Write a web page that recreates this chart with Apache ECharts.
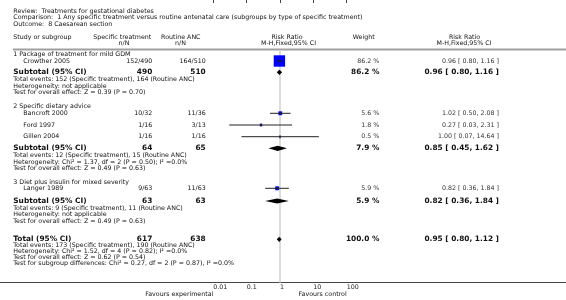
<!DOCTYPE html>
<html><head><meta charset="utf-8">
<script src="https://cdn.jsdelivr.net/npm/echarts@6/dist/echarts.min.js"></script>
<style>html,body{margin:0;padding:0;background:#fff}#c{width:566px;height:300px}</style>
</head><body><div id="c"></div>
<script>
// ---------- DATA ----------
var titleLines = ['Review:  Treatments for gestational diabetes',
  'Comparison:  1 Any specific treatment versus routine antenatal care (subgroups by type of specific treatment)',
  'Outcome:  8 Caesarean section'];
var groups = ['1 Package of treatment for mild GDM', '2 Specific dietary advice', '3 Diet plus insulin for mixed severity'];
var studies = ['Crowther 2005', 'Bancroft 2000', 'Ford 1997', 'Gillen 2004', 'Langer 1989'];
var studyGroup = [0, 1, 1, 1, 2];
var expEvents = [152, 10, 1, 1, 9];
var expTotal = [490, 32, 16, 16, 63];
var ctrlEvents = [164, 11, 3, 1, 11];
var ctrlTotal = [510, 36, 13, 16, 63];
var rr = [0.96, 1.02, 0.27, 1.00, 0.82];
var rrLo = [0.80, 0.50, 0.03, 0.07, 0.36];
var rrHi = [1.16, 2.08, 2.31, 14.64, 1.84];
var weights = [86.2, 5.6, 1.8, 0.5, 5.9];
var subRR = [0.96, 0.85, 0.82];
var subLo = [0.80, 0.45, 0.36];
var subHi = [1.16, 1.62, 1.84];
var subWeight = [86.2, 7.9, 5.9];
var subExpN = [490, 64, 63];
var subCtrlN = [510, 65, 63];
var subExpEv = [152, 12, 9];
var subCtrlEv = [164, 15, 11];
var subHet = ['not applicable', 'Chi\u00b2 = 1.37, df = 2 (P = 0.50); I\u00b2 =0.0%', 'not applicable'];
var subZ = ['Z = 0.39 (P = 0.70)', 'Z = 0.49 (P = 0.63)', 'Z = 0.49 (P = 0.63)'];
var totRR = 0.95, totLo = 0.80, totHi = 1.12, totWeight = 100.0;
var totExpN = 617, totCtrlN = 638, totExpEv = 173, totCtrlEv = 190;
var totHet = 'Chi\u00b2 = 1.52, df = 4 (P = 0.82); I\u00b2 =0.0%';
var totZ = 'Z = 0.62 (P = 0.54)';
var subgroupDiff = 'Chi\u00b2 = 0.27, df = 2 (P = 0.87), I\u00b2 =0.0%';
var tickValues = [0.01, 0.1, 1, 10, 100];
var favLeft = 'Favours experimental', favRight = 'Favours control';

// ---------- LAYOUT ----------
var FONT = '"DejaVu Sans", sans-serif';
var fs = 6.3, fb = 7.4;
var AXIS_Y = 282.5;
var colExpR = 152.3, colCtrlR = 205.7, colWR = 379.3, colRRR = 499;
var groupTitleY = [54.3, 106.7, 182.7];
var studyY = [61, 113.3, 125, 136.7, 188.3];
var subY = [72.3, 148.3, 201];
var totY = 239.3;

function f2(v){ return v.toFixed(2); }
function ci(a,b,c){ return f2(a) + ' [ ' + f2(b) + ', ' + f2(c) + ' ]'; }

var g = [];
function T(text, x, y, opt){
  opt = opt || {};
  g.push({type:'text', silent:true, z:10, style:{text:text, x:x, y:y,
    font:(opt.bold?'bold ':'') + (opt.size||fs) + 'px ' + FONT,
    fill: opt.color || '#111', align: opt.align || 'left', verticalAlign:'middle'}});
}
T(titleLines[0], 13.3, 11);
T(titleLines[1], 13.3, 17.4);
T(titleLines[2], 13.3, 24.3);
T('Study or subgroup', 13.3, 37.7);
T('Specific treatment', 122.2, 37.7, {align:'center'});
T('n/N', 124, 43.3, {align:'center'});
T('Routine ANC', 180.8, 37.7, {align:'center'});
T('n/N', 180.5, 43.3, {align:'center'});
T('Risk Ratio', 287, 37.7, {align:'center'});
T('M-H,Fixed,95% CI', 288.5, 43.3, {align:'center'});
T('Weight', 363.7, 37.7, {align:'center'});
T('Risk Ratio', 464.5, 37.7, {align:'center'});
T('M-H,Fixed,95% CI', 464, 43.3, {align:'center'});
g.push({type:'line', silent:true, shape:{x1:13, y1:49.5, x2:566, y2:49.5}, style:{stroke:'#a0a0a0', lineWidth:2}});

for (var k = 0; k < groups.length; k++) {
  T(groups[k], 13.3, groupTitleY[k]);
  var ys = subY[k];
  T('Subtotal (95% CI)', 13.3, ys, {bold:true, size:fb});
  T(String(subExpN[k]), colExpR, ys, {bold:true, size:fb, align:'right'});
  T(String(subCtrlN[k]), colCtrlR, ys, {bold:true, size:fb, align:'right'});
  T(subWeight[k].toFixed(1) + ' %', colWR, ys, {bold:true, size:fb, align:'right'});
  T(ci(subRR[k], subLo[k], subHi[k]), colRRR, ys, {bold:true, size:fb, align:'right'});
  T('Total events: ' + subExpEv[k] + ' (Specific treatment), ' + subCtrlEv[k] + ' (Routine ANC)', 13.3, ys + 7);
  T('Heterogeneity: ' + subHet[k], 13.3, ys + 13.8);
  T('Test for overall effect: ' + subZ[k], 13.3, ys + 20.4);
}
for (var i = 0; i < studies.length; i++) {
  var y = studyY[i];
  T(studies[i], 23.3, y);
  T(expEvents[i] + '/' + expTotal[i], colExpR, y, {align:'right'});
  T(ctrlEvents[i] + '/' + ctrlTotal[i], colCtrlR, y, {align:'right'});
  T(weights[i].toFixed(1) + ' %', colWR, y, {align:'right', color:'#333'});
  T(ci(rr[i], rrLo[i], rrHi[i]), colRRR, y, {align:'right', color:'#333'});
}
T('Total (95% CI)', 13.3, totY, {bold:true, size:fb});
T(String(totExpN), colExpR, totY, {bold:true, size:fb, align:'right'});
T(String(totCtrlN), colCtrlR, totY, {bold:true, size:fb, align:'right'});
T(totWeight.toFixed(1) + ' %', colWR, totY, {bold:true, size:fb, align:'right'});
T(ci(totRR, totLo, totHi), colRRR, totY, {bold:true, size:fb, align:'right'});
T('Total events: ' + totExpEv + ' (Specific treatment), ' + totCtrlEv + ' (Routine ANC)', 13.3, totY + 6.4);
T('Heterogeneity: ' + totHet, 13.3, totY + 12.4);
T('Test for overall effect: ' + totZ, 13.3, totY + 18.4);
T('Test for subgroup differences: ' + subgroupDiff, 13.3, totY + 24);
g.push({type:'line', silent:true, shape:{x1:0, y1:AXIS_Y, x2:566, y2:AXIS_Y}, style:{stroke:'#444', lineWidth:1}});
T(favLeft, 213.3, 294.3, {align:'right'});
T(favRight, 346.7, 294.3, {align:'right'});

// ---------- SERIES DATA ----------
var studyData = studies.map(function(s, i){ return [rr[i], rrLo[i], rrHi[i], studyY[i], weights[i]]; });
var diamondData = subRR.map(function(v, k){ return [v, subLo[k], subHi[k], subY[k]]; });
diamondData.push([totRR, totLo, totHi, totY]);
var maxW = Math.max.apply(null, weights);

var chart = echarts.init(document.getElementById('c'), null, {renderer:'canvas'});
chart.setOption({
  animation: false,
  grid: {left: 213.3, right: 566 - 346.7, top: 0, bottom: 300 - AXIS_Y, containLabel: false},
  xAxis: {type:'log', logBase:10, min:0.01, max:100,
    axisLine:{show:false}, splitLine:{show:false}, minorTick:{show:false},
    axisTick:{show:true, length:3, lineStyle:{color:'#444', width:1}},
    axisLabel:{show:true, fontSize:fs, fontFamily:FONT, color:'#222', align:'left', margin:2,
      formatter:function(v){ return String(+v.toPrecision(3)); }}},
  yAxis: {type:'value', min:0, max:AXIS_Y, inverse:true, show:false},
  graphic: g,
  series: [
    {type:'custom', silent:true, z:1, data:[[1, 50.5, AXIS_Y]],
      renderItem:function(p, api){
        var a = api.coord([api.value(0), api.value(1)]), b = api.coord([api.value(0), api.value(2)]);
        return {type:'line', shape:{x1:a[0], y1:a[1], x2:b[0], y2:b[1]}, style:{stroke:'#dcdcdc', lineWidth:2}};
      }},
    {type:'custom', silent:true, z:3, data:studyData,
      renderItem:function(p, api){
        var y = api.value(3);
        var c = api.coord([api.value(0), y]), l = api.coord([api.value(1), y]), h = api.coord([api.value(2), y]);
        var s = Math.max(1, 11.4 * Math.pow(api.value(4) / maxW, 0.4));
        return {type:'group', children:[
          {type:'rect', shape:{x:c[0]-s/2, y:c[1]-s/2, width:s, height:s}, style:{fill:'#0000ff'}},
          {type:'line', shape:{x1:l[0], y1:c[1], x2:h[0], y2:c[1]}, style:{stroke:'#222', lineWidth:1}},
          {type:'line', shape:{x1:c[0], y1:c[1]-1.6, x2:c[0], y2:c[1]+1.6}, style:{stroke:'#222', lineWidth:1}}
        ]};
      }},
    {type:'custom', silent:true, z:3, data:diamondData,
      renderItem:function(p, api){
        var y = api.value(3);
        var c = api.coord([api.value(0), y]), l = api.coord([api.value(1), y]), h = api.coord([api.value(2), y]);
        var hh = 2.6;
        return {type:'polygon', shape:{points:[[l[0], c[1]], [c[0], c[1]-hh], [h[0], c[1]], [c[0], c[1]+hh]]},
          style:{fill:'#000'}};
      }}
  ]
});
</script></body></html>
